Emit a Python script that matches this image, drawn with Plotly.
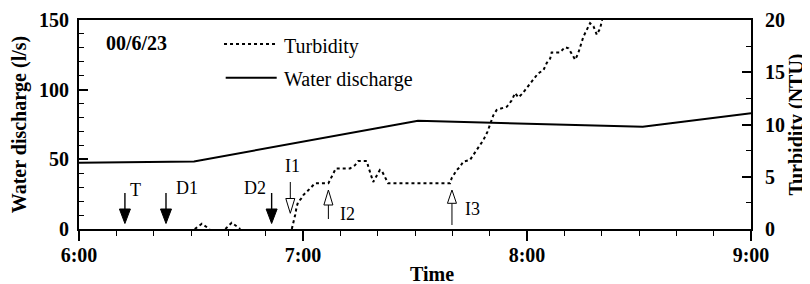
import pandas as pd
import plotly.graph_objects as go

# ---------------- data ----------------
DAY_START = "2000-06-23 06:00"
DAY_END = "2000-06-23 09:00"

# Water discharge (l/s), times as minutes after 6:00
discharge_minutes = [0, 30.8, 90.8, 151.0, 180]
discharge_lps = [47.6, 48.5, 77.7, 73.4, 83.0]

# Turbidity (NTU), minutes after 6:00 (None = stretch lying on the zero axis, not drawn)
turb_minutes = [31.0, 32.9, 35.0, None, 39.2, 40.9, 43.2, None,
                57.0, 57.4, 57.9, 58.3, 58.7,
                59.5, 60.1, 61.4, 62.3, 63.2, 66.8, 68.1, 68.8, 72.6, 73.9, 74.8,
                77.1, 77.5, 78.8, 80.6, 81.2, 82.8, 99.4, 99.8, 101.2, 102.1, 102.9,
                104.7, 105.6, 107.0, 108.3, 109.4, 110.1, 111.0, 111.9, 114.6, 115.9,
                116.8, 117.7, 118.6, 119.5, 121.7, 123.0, 124.4, 125.3, 126.2, 126.6,
                128.8, 130.2, 131.1, 132.9, 133.7, 135.1, 136.9, 137.8, 138.7, 139.6,
                140.1, 141.0]
turb_ntu = [0, 0.5, 0, None, 0, 0.6, 0, None,
            0, 0.55, 1.34, 2.13, 2.6,
            2.9, 3.25, 3.7, 4.05, 4.37, 4.37, 5.33, 5.8, 5.8, 6.1, 6.5,
            6.5, 5.96, 4.5, 5.65, 5.5, 4.37, 4.37, 4.85, 5.65, 5.96, 6.44,
            6.6, 7.08, 7.88, 8.5, 9.3, 10.1, 10.9, 11.4, 11.7, 12.3,
            13.0, 12.6, 12.9, 13.3, 14.3, 14.9, 15.2, 15.9, 16.3, 16.9,
            16.9, 17.4, 17.3, 16.2, 16.8, 18.4, 19.7, 19.4, 18.6, 19.2,
            20.0, 21.0]

# Event markers
event_labels = ["T", "D1", "D2", "I1", "I2", "I3"]
event_minutes = [12.3, 23.3, 51.6, 56.6, 66.8, 99.9]
event_kind = ["solid_down", "solid_down", "solid_down", "open_down", "open_up", "open_up"]

date_label = "00/6/23"
legend_labels = ["Turbidity", "Water discharge"]
x_title = "Time"
y_title = "Water discharge (l/s)"
y2_title = "Turbidity (NTU)"

# ---------------- styling ----------------
SERIF = "Liberation Serif, Times New Roman, serif"
start = pd.Timestamp(DAY_START)


def to_dt(mins):
    return [None if m is None else start + pd.Timedelta(minutes=m) for m in mins]


discharge_dt = to_dt(discharge_minutes)
turb_dt = to_dt(turb_minutes)
event_dt = [t.strftime("%Y-%m-%d %H:%M:%S.%f") for t in to_dt(event_minutes)]

fig = go.Figure()
fig.add_trace(go.Scatter(x=discharge_dt, y=discharge_lps, mode="lines",
                         line=dict(color="black", width=2), yaxis="y",
                         name=legend_labels[1], showlegend=False, hoverinfo="skip"))
fig.add_trace(go.Scatter(x=turb_dt, y=turb_ntu, mode="lines", connectgaps=False,
                         line=dict(color="black", width=2, dash="3px,3px"), yaxis="y2",
                         name=legend_labels[0], showlegend=False, hoverinfo="skip"))

tickfont = dict(family=SERIF, size=20, color="black", weight="bold")

shapes = []
annotations = []

# arrow glyph geometry (pixels above the x axis)
label_offsets = {
    "T": (11, 39), "D1": (21, 41), "D2": (-17, 41),
    "I1": (2.5, 63), "I2": (19, 15), "I3": (20.5, 20),
}
open_geom = {"I1": (47, 30.5, 15.7), "I2": (10, 24, 39), "I3": (4, 25.7, 39)}

for lab, t, kind in zip(event_labels, event_dt, event_kind):
    base = dict(xref="x", yref="y", xsizemode="pixel", ysizemode="pixel",
                xanchor=t, yanchor=0)
    if kind == "solid_down":
        shapes.append(dict(type="line", x0=0, x1=0, y0=36, y1=19,
                           line=dict(color="black", width=1.4), **base))
        shapes.append(dict(type="path", path="M-5.5,20 L5.5,20 L0,5.5 Z",
                           fillcolor="black", line=dict(color="black", width=1), **base))
    else:
        s0, hb, tip = open_geom[lab]
        shapes.append(dict(type="line", x0=0, x1=0, y0=s0, y1=hb,
                           line=dict(color="black", width=1), **base))
        shapes.append(dict(type="path", path=f"M-4.5,{hb} L4.5,{hb} L0,{tip} Z",
                           fillcolor="white", line=dict(color="black", width=1), **base))
    dx, dy = label_offsets[lab]
    annotations.append(dict(x=t, y=0, xref="x", yref="y", text=lab, showarrow=False,
                            xanchor="center", yanchor="middle", xshift=dx, yshift=dy,
                            font=dict(family=SERIF, size=18, color="black")))

# manual legend
shapes.append(dict(type="line", xref="paper", yref="paper", x0=0.2158, x1=0.2932,
                   y0=0.8852, y1=0.8852, line=dict(color="black", width=2, dash="3px,3px")))
shapes.append(dict(type="line", xref="paper", yref="paper", x0=0.2183, x1=0.2942,
                   y0=0.7239, y1=0.7239, line=dict(color="black", width=2)))
annotations.append(dict(x=0.3021, y=0.8852, xref="paper", yref="paper", text=legend_labels[0],
                        showarrow=False, xanchor="left", yanchor="middle", yshift=-3,
                        font=dict(family=SERIF, size=20, color="black")))
annotations.append(dict(x=0.3021, y=0.7239, xref="paper", yref="paper", text=legend_labels[1],
                        showarrow=False, xanchor="left", yanchor="middle", yshift=-2,
                        font=dict(family=SERIF, size=20, color="black")))

annotations.append(dict(x=0.0863, y=0.891, xref="paper", yref="paper", text=date_label,
                        showarrow=False, xanchor="center", yanchor="middle",
                        font=dict(family=SERIF, size=20, color="black", weight="bold")))
annotations.append(dict(x=0.525, y=-0.213, xref="paper", yref="paper", text=x_title,
                        showarrow=False, xanchor="center", yanchor="middle",
                        font=dict(family=SERIF, size=20, color="black", weight="bold")))

# the page body adds an 8px offset, so the figure is 8px smaller on each axis
fig.update_layout(
    width=802, height=276, autosize=False,
    margin=dict(l=71, r=59, t=12, b=55, autoexpand=False),
    paper_bgcolor="white", plot_bgcolor="white",
    showlegend=False,
    xaxis=dict(type="date", range=[DAY_START, DAY_END], dtick=3600000, tick0=DAY_START,
               tickformat="%-H:%M", ticks="outside", ticklen=10, tickwidth=1.5,
               tickcolor="black", tickfont=tickfont, automargin=False,
               ticklabelstandoff=-3,
               minor=dict(dtick=600000, ticks="outside", ticklen=5, tickwidth=1.2,
                          tickcolor="black", showgrid=False),
               showline=True, linewidth=2, linecolor="black", mirror=True,
               showgrid=False, zeroline=False),
    yaxis=dict(range=[0, 150], dtick=50, ticks="inside", ticklen=9, tickwidth=1.5,
               tickcolor="black", tickfont=tickfont, ticklabelstandoff=4, automargin=False,
               minor=dict(dtick=10, ticks="inside", ticklen=5, tickwidth=1.2,
                          tickcolor="black", showgrid=False),
               showline=True, linewidth=2, linecolor="black",
               showgrid=False, zeroline=False,
               title=dict(text=y_title, standoff=10,
                          font=dict(family=SERIF, size=20, color="black", weight="bold"))),
    yaxis2=dict(range=[0, 20], dtick=5, overlaying="y", side="right",
                ticks="inside", ticklen=9, tickwidth=1.5, tickcolor="black",
                tickfont=tickfont, ticklabelstandoff=8, automargin=False,
                minor=dict(dtick=2.5, ticks="inside", ticklen=5, tickwidth=1.2,
                           tickcolor="black", showgrid=False),
                showline=True, linewidth=2, linecolor="black",
                showgrid=False, zeroline=False,
                title=dict(text=y2_title, standoff=2,
                           font=dict(family=SERIF, size=20, color="black", weight="bold"))),
    shapes=shapes,
    annotations=annotations,
)

fig.write_html("out.html")
